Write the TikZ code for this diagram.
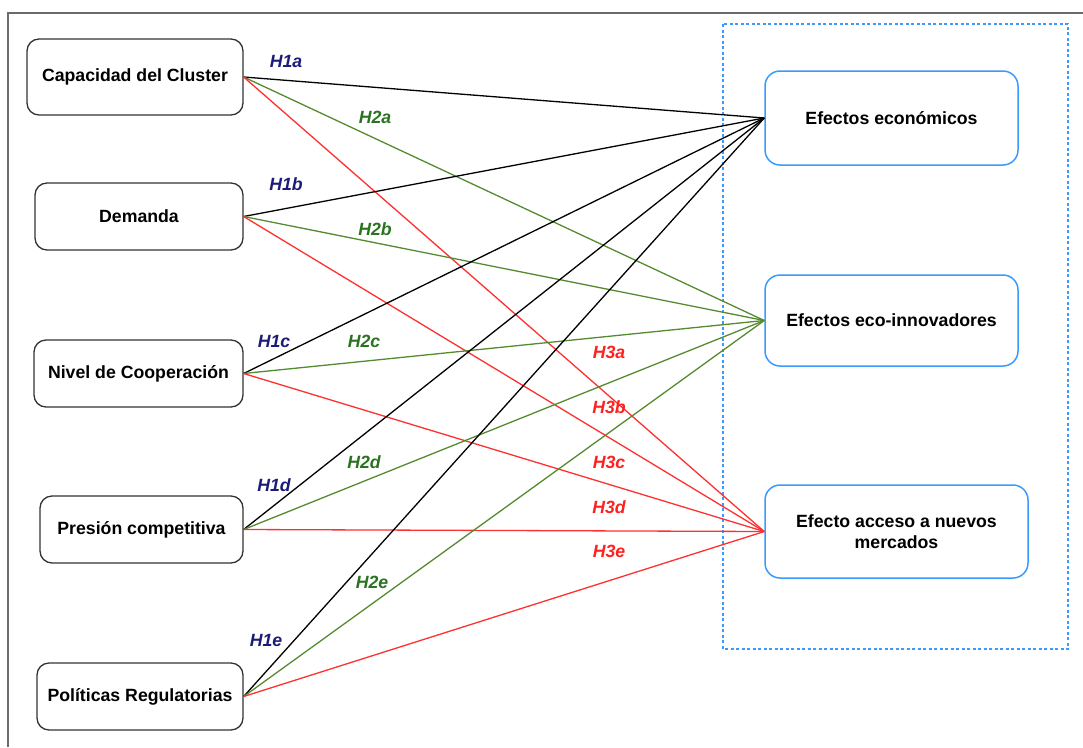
\documentclass[tikz,border=0pt]{standalone}
\usepackage{fontspec}
\setmainfont{Liberation Sans}
\definecolor{frame}{HTML}{6B6B6B}
\definecolor{causeborder}{HTML}{333333}
\definecolor{effectblue}{HTML}{3A9BFF}
\definecolor{linegreen}{HTML}{558B2F}
\definecolor{linered}{HTML}{FF3030}
\definecolor{labnavy}{HTML}{1C1C78}
\definecolor{labgreen}{HTML}{2A7320}
\definecolor{labred}{HTML}{FF2020}
\begin{document}
\begin{tikzpicture}[x=1pt,y=-1pt,
  cause/.style={draw=causeborder, line width=1.3pt, rounded corners=12pt, fill=white,
    font=\bfseries\fontsize{17.7}{21.5}\selectfont, inner sep=0pt, align=center},
  effect/.style={draw=effectblue, line width=1.5pt, rounded corners=15pt, fill=white,
    font=\bfseries\fontsize{17.7}{21.5}\selectfont, inner sep=0pt, align=center},
  hyp/.style={font=\bfseries\itshape\fontsize{17.7}{20}\selectfont, inner sep=0pt},
  hone/.style={draw=black, line width=1.3pt},
  htwo/.style={draw=linegreen, line width=1.3pt},
  hthree/.style={draw=linered, line width=1.3pt}]
\useasboundingbox (0,0) rectangle (1083,747);

% outer frame (only top and left edges fall inside the page)
\draw[frame, line width=1.4pt] (8,747) -- (8,13) -- (1083,13);

% group of effects
\draw[effectblue, line width=1.5pt, dash pattern=on 3pt off 2.5pt] (723,24) rectangle (1068,649);

% causes
\node[cause, minimum width=216pt, minimum height=76pt] (cap)  at (135,77)    {Capacidad del Cluster};
\node[cause, minimum width=208pt, minimum height=67pt] (dem)  at (139,216.5) {Demanda};
\node[cause, minimum width=209pt, minimum height=67pt] (coop) at (138.5,373.5) {Nivel de Cooperación};
\node[cause, minimum width=203pt, minimum height=67pt] (pres) at (141.5,529.5) {Presión competitiva};
\node[cause, minimum width=206pt, minimum height=67pt] (pol)  at (140,696.5) {Políticas Regulatorias};

% effects
\node[effect, minimum width=253pt, minimum height=94pt] (eco) at (891.5,118)   {Efectos económicos};
\node[effect, minimum width=253pt, minimum height=91pt] (inn) at (891.5,320.5) {Efectos eco-innovadores};
\node[effect, minimum width=263pt, minimum height=93pt] (acc) at (896.5,531.5) {Efecto acceso a nuevos\\mercados};

% hypotheses: every cause linked to every effect
\foreach \src in {cap,dem,coop,pres,pol}{
  \draw[hone]   (\src.east) -- (eco.west);
  \draw[htwo]   (\src.east) -- (inn.west);
  \draw[hthree] (\src.east) -- (acc.west);
}

% hypothesis labels
\node[hyp, text=labnavy] (h1a) at (286,61)  {H1a};
\node[hyp, text=labnavy] (h1b) at (286,184) {H1b};
\node[hyp, text=labnavy] (h1c) at (274,341) {H1c};
\node[hyp, text=labnavy] (h1d) at (274,485) {H1d};
\node[hyp, text=labnavy] (h1e) at (266,640) {H1e};

\node[hyp, text=labgreen] (h2a) at (375,117) {H2a};
\node[hyp, text=labgreen] (h2b) at (375,229) {H2b};
\node[hyp, text=labgreen] (h2c) at (364,341) {H2c};
\node[hyp, text=labgreen] (h2d) at (364,462) {H2d};
\node[hyp, text=labgreen] (h2e) at (372,582) {H2e};

\node[hyp, text=labred] (h3a) at (609,352) {H3a};
\node[hyp, text=labred] (h3b) at (609,407) {H3b};
\node[hyp, text=labred] (h3c) at (609,462) {H3c};
\node[hyp, text=labred] (h3d) at (609,507) {H3d};
\node[hyp, text=labred] (h3e) at (609,551) {H3e};
\end{tikzpicture}
\end{document}
